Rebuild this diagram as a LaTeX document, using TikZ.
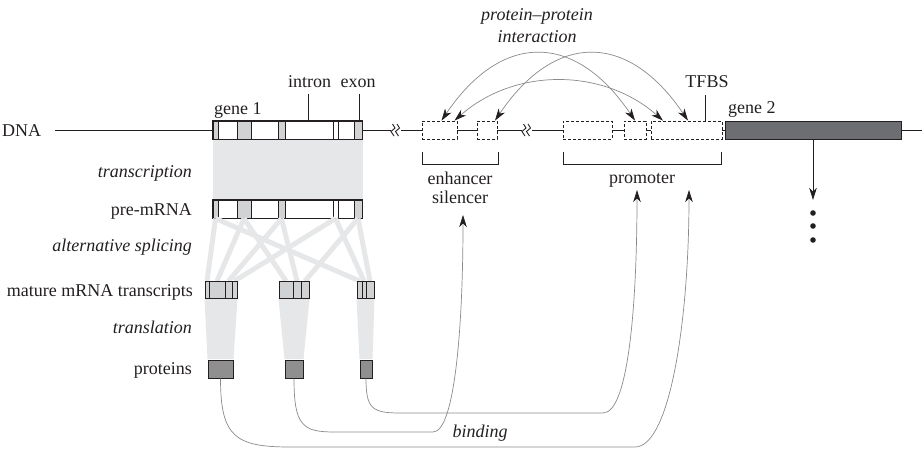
\documentclass[tikz,border=0pt]{standalone}
\usepackage{fontspec}
\setmainfont{Liberation Serif}
\usetikzlibrary{arrows.meta,positioning,calc}

\definecolor{bandgrey}{HTML}{E6E7E8}
\definecolor{exongrey}{HTML}{D1D2D3}
\definecolor{protgrey}{HTML}{8F8F8F}
\definecolor{genegrey}{HTML}{6D6E71}
\definecolor{linkgrey}{HTML}{8A8A8A}
\definecolor{inkgrey}{HTML}{231F20}

\tikzset{
  txt/.style={inner sep=0pt, text=inkgrey, font=\fontsize{18}{21}\selectfont},
  proc/.style={txt, font=\fontsize{18}{21}\selectfont\itshape},
  dna/.style={draw=inkgrey, line width=0.9pt},
  genebox/.style={draw=inkgrey, fill=white, line width=1pt, inner sep=0pt, minimum width=149, minimum height=18},
  exonbox/.style={draw=inkgrey, line width=0.8pt},
  mrnabox/.style={draw=inkgrey, fill=exongrey, line width=1pt, inner sep=0pt, minimum height=17},
  regbox/.style={draw=inkgrey, fill=white, dash pattern=on 3pt off 2pt, line width=0.8pt, inner sep=0pt, minimum height=18},
  protbox/.style={draw=inkgrey, fill=protgrey, line width=1pt, inner sep=0pt, minimum height=18},
  splice/.style={draw=bandgrey, line width=5pt},
  tick/.style={draw=inkgrey, line width=0.8pt},
  tip/.style={-{Stealth[length=12pt,width=7.5pt,inset=3.5pt,color=inkgrey]}},
  bind/.style={draw=linkgrey, line width=0.7pt, tip},
  ppi/.style={draw=linkgrey, line width=0.7pt, {Stealth[length=12pt,width=7.5pt,inset=3.5pt,color=inkgrey]}-{Stealth[length=12pt,width=7.5pt,inset=3.5pt,color=inkgrey]}}
}

\begin{document}
\begin{tikzpicture}[x=1pt,y=-1pt]
    \useasboundingbox (0,0) rectangle (924,450);

    % Left labels
    \node[txt, anchor=base west] (dnalbl) at (2,136) {DNA};
    \node[proc, anchor=base east] (transcr) at (192,177) {transcription};
    \node[txt, anchor=base east] (prelbl) at (192,215) {pre-mRNA};
    \node[proc, anchor=base east] (altspl) at (192,251) {alternative splicing};
    \node[txt, anchor=base east] (maturelbl) at (193,296) {mature mRNA transcripts};
    \node[proc, anchor=base east] (transl) at (192,333) {translation};
    \node[txt, anchor=base east] (protlbl) at (192,374) {proteins};

    % DNA strand with breaks
    \draw[dna] (55,130) -- (391,130);
    \draw[dna] (401,130) -- (522,130);
    \draw[dna] (532,130) -- (922,130);
    \foreach \x in {391,522} {
        \draw[dna] (\x+1.5,124) -- (\x+4,128) -- (\x,131.5) -- (\x+3,136);
        \draw[dna] (\x+6,124) -- (\x+8.5,128) -- (\x+4.5,131.5) -- (\x+7.5,136);
    }

    % Gene 1 and pre-mRNA
    \node[genebox] (gene1) at (287.5,130) {};
    \node[genebox] (pre) at (287.5,209) {};
    \fill[bandgrey] (gene1.south west) rectangle (pre.north east);
    \foreach \t in {121,200}
        \foreach \a/\b/\c in {213/218/exongrey,237/251/exongrey,278/285/exongrey,333/338/white,354/362/exongrey}
            \filldraw[exonbox, fill=\c] (\a,\t) rectangle (\b,{\t+18});
    \draw[draw=inkgrey, line width=1pt] (gene1.south west) rectangle (gene1.north east);
    \draw[draw=inkgrey, line width=1pt] (pre.south west) rectangle (pre.north east);

    % Alternative splicing
    \foreach \a/\b in {215.5/207,215.5/359.5,244/217,244/286,281.5/228.5,281.5/297,335.5/234.5,335.5/364,358/305,358/370}
        \draw[splice] (\a,218.5) -- (\b,281);

    % Mature mRNA transcripts
    \node[mrnabox, minimum width=32] (m1) at (221,289.5) {};
    \node[mrnabox, minimum width=30] (m2) at (294,289.5) {};
    \node[mrnabox, minimum width=17] (m3) at (365.5,289.5) {};
    \foreach \a/\b in {205/209,209/225,225/232,232/237,279/293,293/301,301/309,357/362,362/366,366/374}
        \draw[exonbox] (\a,281) rectangle (\b,298);

    % Proteins
    \node[protbox, minimum width=25] (p1) at (220.5,369) {};
    \node[protbox, minimum width=18] (p2) at (294,369) {};
    \node[protbox, minimum width=12] (p3) at (366,369) {};
    \foreach \m/\p in {m1/p1,m2/p2,m3/p3}
        \fill[bandgrey] ([yshift=-0.5pt]\m.south west) -- ([yshift=-0.5pt]\m.south east) -- ([yshift=0.5pt]\p.north east) -- ([yshift=0.5pt]\p.north west) -- cycle;

    % Regulatory regions and gene 2
    \node[regbox, minimum width=35] (enh1) at (439.5,130) {};
    \node[regbox, minimum width=20] (enh2) at (487,130) {};
    \node[regbox, minimum width=49] (pro1) at (587.5,130) {};
    \node[regbox, minimum width=22] (pro2) at (635,130) {};
    \node[regbox, minimum width=71] (pro3) at (686.5,130) {};
    \node[draw=inkgrey, fill=genegrey, line width=1pt, inner sep=0pt, minimum width=176, minimum height=18] (gene2) at (813,130) {};

    % Labels above DNA
    \node[txt, anchor=base west] (g1lbl) at (214,114) {gene 1};
    \node[txt, anchor=base] (intron) at (309.5,87) {intron};
    \node[txt, anchor=base] (exon) at (358,87) {exon};
    \node[txt, anchor=base] (tfbs) at (707,87) {TFBS};
    \node[txt, anchor=base west] (g2lbl) at (728,113) {gene 2};
    \draw[tick] (308,94) -- (308,121);
    \draw[tick] (359,94) -- (359,121);
    \draw[tick] (705,95) -- (705,121);

    % Brackets
    \draw[tick] (422,152) -- (422,164) -- (498,164) -- (498,152);
    \draw[tick] (563,152) -- (563,164) -- (721,164) -- (721,152);
    \node[txt, anchor=base] (enhlbl) at (460,184) {enhancer};
    \node[txt, anchor=base] (sillbl) at (460,203) {silencer};
    \node[txt, anchor=base] (prolbl) at (642,183) {promoter};

    % Gene 2 product
    \coordinate (g2end) at (813,200);
    \draw[tick, tip] (gene2.south) -- (g2end);
    \foreach \y in {213,226,240}
        \fill[inkgrey] (813,\y) circle (2.8);

    % Protein-protein interaction
    \node[proc, anchor=base] (ppilbl) at (537,20) {protein–protein};
    \node[proc, anchor=base] (ppilbl2) at (537,42) {interaction};
    \draw[ppi] ([xshift=2pt]enh1.north) .. controls +(60,-89) and +(-60,-89) .. (pro2.north);
    \draw[ppi] ([xshift=8pt]enh2.north) .. controls +(60,-89) and +(-60,-89) .. ([xshift=1.5pt]pro3.north);
    \draw[ppi] ([xshift=15pt]enh1.north) .. controls +(60,-53) and +(-60,-53) .. ([xshift=-23.5pt]pro3.north);

    % Binding
    \coordinate (enhtip) at (463,215);
    \coordinate (protip1) at (637,190);
    \coordinate (protip2) at (689,190);
    \draw[bind] (p3.south) .. controls +(0,30) and +(-28,0) .. (400,413) -- (603,413) .. controls +(26,0) and +(0,110) .. (protip1);
    \draw[bind] (p2.south) .. controls +(0,48) and +(-32,0) .. (335,432) -- (433,432) .. controls +(22,0) and +(0,110) .. (enhtip);
    \draw[bind] (p1.south) .. controls +(0,58) and +(-55,0) .. (290,447) -- (635,447) .. controls +(35,0) and +(0,130) .. (protip2);
    \node[proc, anchor=base] (bindlbl) at (480,437) {binding};
\end{tikzpicture}
\end{document}
